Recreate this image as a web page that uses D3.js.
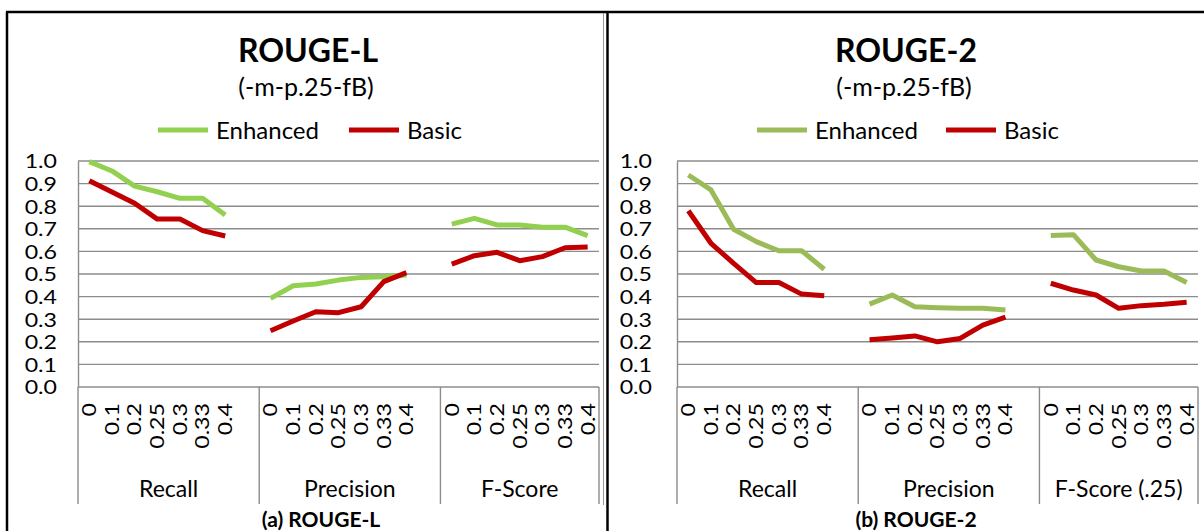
<!DOCTYPE html>
<html>
<head>
<meta charset="utf-8">
<script src="https://cdn.jsdelivr.net/npm/d3@7"></script>
<style>
  html, body { margin: 0; padding: 0; background: #fff; }
  svg { display: block; font-family: Lato, "Open Sans", sans-serif; }
</style>
</head>
<body>
<svg id="fig" width="1204" height="531"></svg>
<script>
// Threshold values on the category axis (shared by every metric group)
const thresholds = ["0", "0.1", "0.2", "0.25", "0.3", "0.33", "0.4"];

// Metric groups per chart
const metricsL = ["Recall", "Precision", "F-Score"];
const metrics2 = ["Recall", "Precision", "F-Score (.25)"];

// ROUGE-L scores
const rougeLEnhancedRecall    = [0.997, 0.956, 0.889, 0.864, 0.835, 0.835, 0.761];
const rougeLEnhancedPrecision = [0.392, 0.448, 0.456, 0.473, 0.485, 0.488, 0.496];
const rougeLEnhancedFScore    = [0.721, 0.746, 0.717, 0.717, 0.707, 0.707, 0.670];
const rougeLBasicRecall       = [0.913, 0.863, 0.813, 0.743, 0.743, 0.692, 0.668];
const rougeLBasicPrecision    = [0.249, 0.292, 0.333, 0.329, 0.355, 0.466, 0.506];
const rougeLBasicFScore       = [0.544, 0.581, 0.596, 0.559, 0.577, 0.616, 0.619];

// ROUGE-2 scores
const rouge2EnhancedRecall    = [0.938, 0.872, 0.698, 0.643, 0.603, 0.603, 0.521];
const rouge2EnhancedPrecision = [0.367, 0.407, 0.355, 0.351, 0.348, 0.348, 0.341];
const rouge2EnhancedFScore    = [0.670, 0.674, 0.562, 0.532, 0.513, 0.513, 0.462];
const rouge2BasicRecall       = [0.780, 0.636, 0.547, 0.462, 0.462, 0.411, 0.404];
const rouge2BasicPrecision    = [0.209, 0.217, 0.226, 0.200, 0.215, 0.274, 0.309];
const rouge2BasicFScore       = [0.459, 0.429, 0.407, 0.348, 0.360, 0.366, 0.375];

const yTicks = [0, 0.1, 0.2, 0.3, 0.4, 0.5, 0.6, 0.7, 0.8, 0.9, 1.0];
const seriesNames = ["Enhanced", "Basic"];

// tick labels use a slightly widened face
const TICK_FONT = 19;
const TICK_STRETCH = 1.22;

const svg = d3.select("#fig");

// Outer figure frame (two table cells)
const frame = svg.append("g").attr("stroke", "#000").attr("stroke-width", 2.5);
frame.append("line").attr("x1", 6).attr("x2", 1204).attr("y1", 12).attr("y2", 12);
frame.append("line").attr("x1", 7).attr("x2", 7).attr("y1", 12).attr("y2", 531);
frame.append("line").attr("x1", 607.5).attr("x2", 607.5).attr("y1", 12).attr("y2", 531);
svg.append("line").attr("x1", 603.5).attr("x2", 603.5).attr("y1", 13).attr("y2", 505)
  .attr("stroke", "#9a9a9a").attr("stroke-width", 1);

function drawChart(cfg) {
  const g = svg.append("g");
  const { left, right, top, bottom } = cfg;

  // slot keys: each group followed by an empty slot, except the last
  const keys = [];
  cfg.metrics.forEach((m, gi) => {
    thresholds.forEach(t => keys.push(gi + "|" + t));
    if (gi < cfg.metrics.length - 1) keys.push(gi + "|gap");
  });

  const x = d3.scaleBand().domain(keys).range([left, right]).padding(0);
  const y = d3.scaleLinear().domain([0, 1]).range([bottom, top]);
  const cx = k => x(k) + x.bandwidth() / 2;

  // horizontal gridlines
  g.append("g").selectAll("line").data(yTicks).join("line")
    .attr("x1", left).attr("x2", right)
    .attr("y1", d => y(d)).attr("y2", d => y(d))
    .attr("stroke", "#8c8c8c").attr("stroke-width", 1.4);

  // value axis
  const yAxis = g.append("g").attr("transform", `translate(${left},0)`)
    .call(d3.axisLeft(y).tickValues(yTicks).tickFormat(d3.format(".1f")).tickSize(0));
  yAxis.select(".domain").attr("stroke", "#8c8c8c").attr("stroke-width", 1.4);
  yAxis.selectAll("text")
    .attr("font-size", TICK_FONT).attr("fill", "#000").attr("font-family", "Lato, sans-serif")
    .attr("text-anchor", "end").attr("x", 0).attr("dy", "0.36em")
    .attr("transform", `translate(${-cfg.yPad},0) scale(${TICK_STRETCH},1)`);

  // category axis: rotated threshold labels
  const xAxis = g.append("g").attr("transform", `translate(0,${bottom})`)
    .call(d3.axisBottom(x).tickSize(0).tickFormat(k => k.endsWith("gap") ? "" : k.split("|")[1]));
  xAxis.select(".domain").remove();
  xAxis.selectAll("text")
    .attr("font-size", TICK_FONT).attr("fill", "#000").attr("font-family", "Lato, sans-serif")
    .attr("text-anchor", "end")
    .attr("transform", `rotate(-90) scale(${TICK_STRETCH},1)`)
    .attr("x", -16 / TICK_STRETCH).attr("y", 0).attr("dy", "0.36em");

  // group separators and group names
  const groupStarts = cfg.metrics.map((m, gi) => x(gi + "|" + thresholds[0]));
  const bounds = groupStarts.concat([right]);
  g.append("g").selectAll("line").data(bounds).join("line")
    .attr("x1", d => d).attr("x2", d => d)
    .attr("y1", bottom).attr("y2", 504)
    .attr("stroke", "#8c8c8c").attr("stroke-width", 1.4);
  g.append("g").selectAll("text").data(cfg.metrics).join("text")
    .attr("x", (m, i) => (bounds[i] + bounds[i + 1]) / 2)
    .attr("y", 497)
    .attr("text-anchor", "middle").attr("font-size", 23).attr("fill", "#000")
    .text(m => m);

  // series lines, one path per metric group
  const line = d3.line().x(d => cx(d.key)).y(d => y(d.value)).curve(d3.curveLinear);
  cfg.series.forEach((s, si) => {
    s.groups.forEach((vals, gi) => {
      const pts = vals.map((v, i) => ({ key: gi + "|" + thresholds[i], value: v }));
      g.append("path").datum(pts)
        .attr("d", line)
        .attr("fill", "none")
        .attr("stroke", s.color)
        .attr("stroke-width", 5)
        .attr("stroke-linejoin", "round");
    });
  });

  // title block
  g.append("text").attr("x", cfg.titleX).attr("y", 62).attr("text-anchor", "middle")
    .attr("font-size", 32).attr("font-weight", "bold").attr("fill", "#000").text(cfg.title);
  g.append("text").attr("x", cfg.titleX - 2).attr("y", 96).attr("text-anchor", "middle")
    .attr("font-size", 25).attr("fill", "#000").text(cfg.subtitle);

  // legend
  cfg.series.forEach((s, si) => {
    const lx = cfg.legendX[si];
    g.append("line").attr("x1", lx).attr("x2", lx + 50).attr("y1", 130).attr("y2", 130)
      .attr("stroke", s.color).attr("stroke-width", 5);
    g.append("text").attr("x", lx + 58).attr("y", 139).attr("font-size", 24).attr("fill", "#000")
      .text(s.name);
  });

  // caption
  g.append("text").attr("x", cfg.captionX).attr("y", 527).attr("text-anchor", "middle")
    .attr("font-size", 21).attr("font-weight", "bold").attr("fill", "#000").text(cfg.caption);
}

drawChart({
  left: 78, right: 599, top: 161, bottom: 387, yPad: 21,
  metrics: metricsL,
  title: "ROUGE-L", subtitle: "(-m-p.25-fB)", titleX: 308,
  legendX: [158, 349], captionX: 321, caption: "(a) ROUGE-L",
  series: [
    { name: seriesNames[0], color: "#92D050",
      groups: [rougeLEnhancedRecall, rougeLEnhancedPrecision, rougeLEnhancedFScore] },
    { name: seriesNames[1], color: "#C00000",
      groups: [rougeLBasicRecall, rougeLBasicPrecision, rougeLBasicFScore] }
  ]
});

drawChart({
  left: 677, right: 1198, top: 161, bottom: 387, yPad: 25,
  metrics: metrics2,
  title: "ROUGE-2", subtitle: "(-m-p.25-fB)", titleX: 906,
  legendX: [757, 946], captionX: 916, caption: "(b) ROUGE-2",
  series: [
    { name: seriesNames[0], color: "#9BBB59",
      groups: [rouge2EnhancedRecall, rouge2EnhancedPrecision, rouge2EnhancedFScore] },
    { name: seriesNames[1], color: "#C00000",
      groups: [rouge2BasicRecall, rouge2BasicPrecision, rouge2BasicFScore] }
  ]
});
</script>
</body>
</html>
